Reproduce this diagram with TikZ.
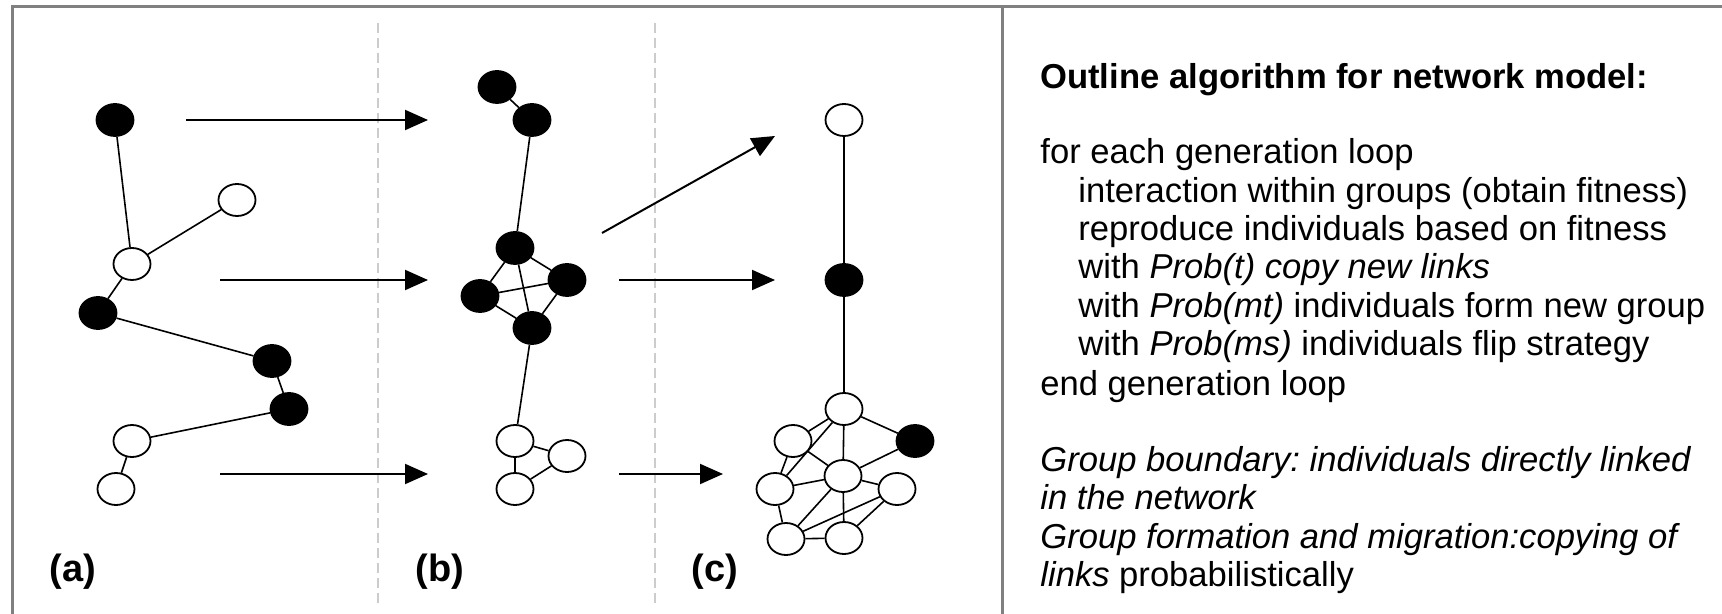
\documentclass[tikz,border=0pt]{standalone}
\usepackage{fontspec}
\setmainfont{Liberation Sans}
\usetikzlibrary{shapes.geometric,arrows.meta}
\frenchspacing

\begin{document}
\begin{tikzpicture}[x=0.5pt,y=-0.5pt,
  ind/.style={draw,ellipse,line width=0.9pt,minimum width=18.5pt,minimum height=16pt,inner sep=0pt},
  blk/.style={ind,fill=black},
  wht/.style={ind,fill=white},
  link/.style={line width=0.8pt},
  move/.style={line width=1pt,-{Triangle[length=11.5pt,width=10pt]}},
  sep/.style={gray!40,line width=0.8pt,dash pattern=on 5pt off 2.5pt},
  frame/.style={gray,line width=1.5pt},
  lbl/.style={inner sep=0pt,font=\fontsize{19}{21}\selectfont\bfseries},
  txt/.style={anchor=base west,inner sep=0pt,font=\fontsize{17.3}{19}\selectfont}]
  \useasboundingbox (0,0) rectangle (1722,614);

  % frame
  \draw[frame] (12,614) -- (12,7) -- (1722,7);
  \draw[frame] (1002,7) -- (1002,614);
  \draw[sep] (378,23) -- (378,603);
  \draw[sep] (655,23) -- (655,603);

  % (a) individuals
  \node[blk] (a1) at (115,120) {};
  \node[wht] (a2) at (237,200) {};
  \node[wht] (a3) at (132,264) {};
  \node[blk] (a4) at (98,313) {};
  \node[blk] (a5) at (272,361) {};
  \node[blk] (a6) at (289,409) {};
  \node[wht] (a7) at (132,441) {};
  \node[wht] (a8) at (116,489) {};
  \draw[link] (a1) -- (a3) -- (a2);
  \draw[link] (a3) -- (a4) -- (a5) -- (a6) -- (a7) -- (a8);

  % (b) individuals
  \node[blk] (b1) at (497,87) {};
  \node[blk] (b2) at (532,120) {};
  \node[blk] (b3) at (515,248) {};
  \node[blk] (b4) at (480,296) {};
  \node[blk] (b5) at (567,280) {};
  \node[blk] (b6) at (532,328) {};
  \node[wht] (b7) at (515,441) {};
  \node[wht] (b8) at (567,456) {};
  \node[wht] (b9) at (515,489) {};
  \draw[link] (b1) -- (b2) -- (b3);
  \draw[link] (b3) -- (b4) -- (b6) -- (b5) -- (b3) -- (b6);
  \draw[link] (b4) -- (b5);
  \draw[link] (b6) -- (b7) -- (b8) -- (b9) -- (b7);

  % (c) individuals
  \node[wht] (c1) at (844,120) {};
  \node[blk] (c2) at (844,280) {};
  \node[wht] (c3) at (844,409) {};
  \node[blk] (c4) at (915,441) {};
  \node[wht] (c5) at (793,441) {};
  \node[wht] (c6) at (843,476) {};
  \node[wht] (c7) at (775,489) {};
  \node[wht] (c8) at (897,489) {};
  \node[wht] (c9) at (786,539) {};
  \node[wht] (c10) at (844,538) {};
  \draw[link] (c1) -- (c2) -- (c3);
  \draw[link] (c3) -- (c5) -- (c7) -- (c9) -- (c10) -- (c8);
  \draw[link] (c3) -- (c4) -- (c6);
  \draw[link] (c3) -- (c6) -- (c10);
  \draw[link] (c3) -- (c7) -- (c6) -- (c8) -- (c9) -- (c6) -- (c5);

  % moves
  \coordinate (p1) at (186,120);  \coordinate (q1) at (428,120);
  \coordinate (p2) at (220,280);  \coordinate (q2) at (428,280);
  \coordinate (p3) at (220,474);  \coordinate (q3) at (428,474);
  \coordinate (p4) at (602,233);  \coordinate (q4) at (775,136);
  \coordinate (p5) at (619,280);  \coordinate (q5) at (775,280);
  \coordinate (p6) at (619,474);  \coordinate (q6) at (723,474);
  \draw[move] (p1) -- (q1);
  \draw[move] (p2) -- (q2);
  \draw[move] (p3) -- (q3);
  \draw[move] (p4) -- (q4);
  \draw[move] (p5) -- (q5);
  \draw[move] (p6) -- (q6);

  \node[lbl] (la) at (73,572) {(a)};
  \node[lbl] (lb) at (440,572) {(b)};
  \node[lbl] (lc) at (715,572) {(c)};

  % algorithm
  \node[txt,font=\fontsize{17.3}{19}\selectfont\bfseries] (t0) at (1040,89) {Outline algorithm for network model:};
  \node[txt] (t1) at (1040,164) {for each generation loop};
  \node[txt] (t2) at (1078,203) {interaction within groups (obtain fitness)};
  \node[txt] (t3) at (1078,241) {reproduce individuals based on fitness};
  \node[txt] (t4) at (1078,279) {with \textit{Prob(t) copy new links}};
  \node[txt] (t5) at (1078,318) {with \textit{Prob(mt)} individuals form new group};
  \node[txt] (t6) at (1078,356) {with \textit{Prob(ms)} individuals flip strategy};
  \node[txt] (t7) at (1040,395) {end generation loop};
  \node[txt] (t8) at (1040,471) {\textit{Group boundary: individuals directly linked}};
  \node[txt] (t9) at (1040,509) {\textit{in the network}};
  \node[txt] (t10) at (1040,548) {\textit{Group formation and migration:copying of}};
  \node[txt] (t11) at (1040,586) {\textit{links} probabilistically};
\end{tikzpicture}
\end{document}
